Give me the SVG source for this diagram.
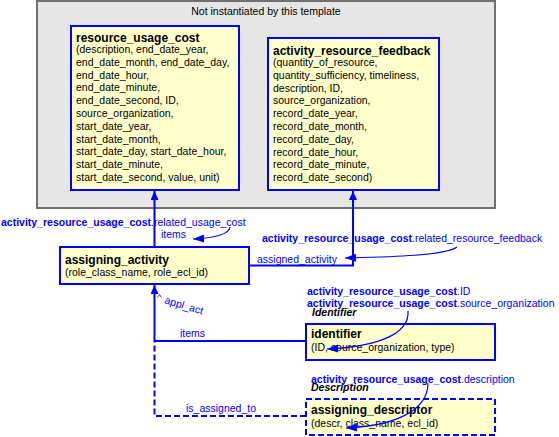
<svg xmlns="http://www.w3.org/2000/svg" width="559" height="437" viewBox="0 0 559 437">
<style>
text{font-family:"Liberation Sans",Arial,sans-serif;font-size:10.5px;fill:#000}
.t{font-weight:bold;font-size:12px}
.box{fill:#ffffcc;stroke:#0000ff;stroke-width:2}
.dbox{fill:#ffffcc;stroke:#0000ff;stroke-width:2;stroke-dasharray:6,3}
.lbl{fill:#0000ff}
.b{font-weight:bold}
.bi{font-weight:bold;font-style:italic;fill:#000}
.c{fill:none;stroke:#0000ff;stroke-width:2}
.d{fill:none;stroke:#0000ff;stroke-width:2;stroke-dasharray:6,3}
.cv{fill:none;stroke:#0000ff;stroke-width:1.2}
</style>
<defs>
<marker id="ah" markerUnits="userSpaceOnUse" markerWidth="10" markerHeight="9" refX="9" refY="4" orient="auto"><path d="M0,0 L9,4 L0,8 z" fill="#0000ff"/></marker>
<marker id="sh" markerUnits="userSpaceOnUse" markerWidth="12" markerHeight="9" refX="11" refY="4" orient="auto"><path d="M0,0 L11,4 L0,8 z" fill="#0000ff"/></marker>
</defs>
<g id="template">
<rect x="37" y="1" width="458" height="207" fill="#e6e6e6" stroke="#707070" stroke-width="2"/>
<text x="266" y="15" text-anchor="middle">Not instantiated by this template</text>
</g>
<g id="resource_usage_cost">
<rect class="box" x="71" y="26" width="168" height="164"/>
<text class="t" x="76" y="42">resource_usage_cost</text>
<text x="76" y="53">(description, end_date_year,<tspan x="76" dy="12.8">end_date_month, end_date_day,</tspan><tspan x="76" dy="12.8">end_date_hour,</tspan><tspan x="76" dy="12.8">end_date_minute,</tspan><tspan x="76" dy="12.8">end_date_second, ID,</tspan><tspan x="76" dy="12.8">source_organization,</tspan><tspan x="76" dy="12.8">start_date_year,</tspan><tspan x="76" dy="12.8">start_date_month,</tspan><tspan x="76" dy="12.8">start_date_day, start_date_hour,</tspan><tspan x="76" dy="12.8">start_date_minute,</tspan><tspan x="76" dy="12.8">start_date_second, value, unit)</tspan></text>
</g>
<g id="activity_resource_feedback">
<rect class="box" x="268" y="38" width="171" height="152"/>
<text class="t" x="273" y="54.5">activity_resource_feedback</text>
<text x="273" y="66">(quantity_of_resource,<tspan x="273" dy="12.8">quantity_sufficiency, timeliness,</tspan><tspan x="273" dy="12.8">description, ID,</tspan><tspan x="273" dy="12.8">source_organization,</tspan><tspan x="273" dy="12.8">record_date_year,</tspan><tspan x="273" dy="12.8">record_date_month,</tspan><tspan x="273" dy="12.8">record_date_day,</tspan><tspan x="273" dy="12.8">record_date_hour,</tspan><tspan x="273" dy="12.8">record_date_minute,</tspan><tspan x="273" dy="12.8">record_date_second)</tspan></text>
</g>
<g id="assigning_activity">
<rect class="box" x="60" y="247" width="189" height="37"/>
<text class="t" x="65" y="263.5">assigning_activity</text>
<text x="65" y="276">(role_class_name, role_ecl_id)</text>
</g>
<g id="identifier">
<rect class="box" x="306" y="324" width="189" height="36"/>
<text class="t" x="311" y="338">identifier</text>
<text x="311" y="351">(ID, source_organization, type)</text>
</g>
<g id="assigning_descriptor">
<rect class="dbox" x="306" y="399" width="189" height="36"/>
<text class="t" x="311" y="414">assigning_descriptor</text>
<text x="311" y="427">(descr, class_name, ecl_id)</text>
</g>
<g id="connectors">
<path class="c" d="M154.5,247 V191" marker-end="url(#ah)"/>
<path class="c" d="M249,265.5 H353 V191" marker-end="url(#ah)"/>
<path class="c" d="M154.5,341 V285" marker-end="url(#ah)"/>
<path class="c" d="M306,341 H154.5"/>
<path class="d" d="M306,416 H154.5 V341"/>
<path class="cv" d="M230,227 C229,235 214,238 193,239" marker-end="url(#sh)"/>
<path class="cv" d="M457,247 C445,256 385,257 345,258" marker-end="url(#sh)"/>
<path class="cv" d="M408,311 C410,336 372,347 327,349" marker-end="url(#sh)"/>
<path class="cv" d="M428,383 C428,412 392,426 346,428" marker-end="url(#sh)"/>
<path fill="none" stroke="#0000ff" stroke-width="0.8" d="M157.5,297.5 L159.5,294.5 L161.5,297.5"/>
</g>
<g id="labels">
<text class="lbl" x="1" y="225.5"><tspan class="b">activity_resource_usage_cost</tspan>.related_usage_cost</text>
<text class="lbl" x="161" y="238">items</text>
<text class="lbl" x="262" y="242"><tspan class="b">activity_resource_usage_cost</tspan>.related_resource_feedback</text>
<text class="lbl" x="257" y="262.5">assigned_activity</text>
<text class="lbl" x="164" y="303" transform="rotate(17 164 303)">appl_act</text>
<text class="lbl" x="307" y="294.7"><tspan class="b">activity_resource_usage_cost</tspan>.ID</text>
<text class="lbl" x="307" y="307"><tspan class="b">activity_resource_usage_cost</tspan>.source_organization</text>
<text class="bi" x="312" y="315.5">Identifier</text>
<text class="lbl" x="180" y="337">items</text>
<text class="lbl" x="311" y="382.7"><tspan class="b">activity_resource_usage_cost</tspan>.description</text>
<text class="bi" x="311" y="391">Description</text>
<text class="lbl" x="186" y="412.4">is_assigned_to</text>
</g>
</svg>
